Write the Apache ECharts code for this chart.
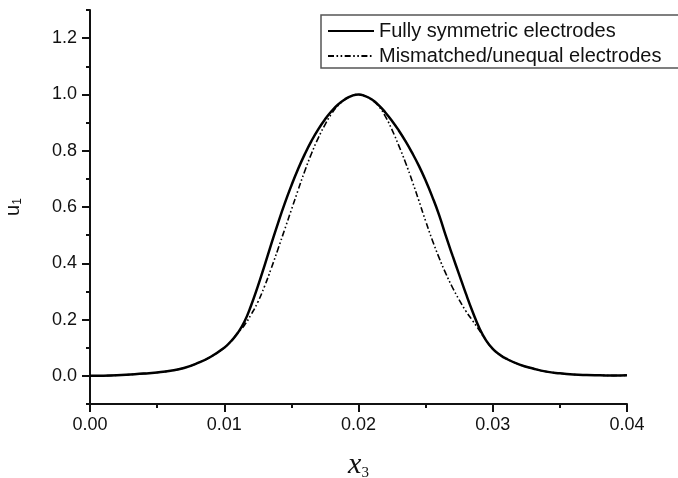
<!DOCTYPE html>
<html>
<head>
<meta charset="utf-8">
<script src="https://cdn.jsdelivr.net/npm/echarts@6/dist/echarts.min.js"></script>
<style>html,body{margin:0;padding:0;background:#fff}#c{width:678px;height:478px}</style>
</head>
<body>
<div id="c"></div>
<script>
// x3 positions (shared by both curves)
var xValues = [0, 0.002, 0.004, 0.005, 0.006, 0.007, 0.008, 0.009, 0.010, 0.0105, 0.011, 0.0115, 0.012, 0.0125, 0.013, 0.0135, 0.014, 0.0145, 0.015, 0.0155, 0.016, 0.0165, 0.017, 0.0175, 0.018, 0.0185, 0.019, 0.0195, 0.020, 0.0205, 0.021, 0.0215, 0.022, 0.0225, 0.023, 0.0235, 0.024, 0.0245, 0.025, 0.0255, 0.026, 0.0265, 0.027, 0.0275, 0.028, 0.0285, 0.029, 0.0295, 0.030, 0.0305, 0.031, 0.032, 0.033, 0.034, 0.035, 0.036, 0.037, 0.038, 0.039, 0.040];
// Fully symmetric electrodes
var symmetricU = [0.000, 0.002, 0.008, 0.012, 0.018, 0.028, 0.045, 0.068, 0.100, 0.123, 0.152, 0.192, 0.250, 0.318, 0.392, 0.468, 0.542, 0.612, 0.676, 0.735, 0.788, 0.835, 0.876, 0.911, 0.941, 0.965, 0.983, 0.995, 1.000, 0.994, 0.982, 0.962, 0.936, 0.906, 0.872, 0.834, 0.792, 0.746, 0.694, 0.636, 0.572, 0.498, 0.428, 0.360, 0.292, 0.228, 0.170, 0.126, 0.096, 0.076, 0.061, 0.040, 0.026, 0.015, 0.009, 0.005, 0.003, 0.002, 0.001, 0.002];
// Mismatched/unequal electrodes
var mismatchedU = [0.000, 0.002, 0.008, 0.012, 0.018, 0.028, 0.045, 0.068, 0.100, 0.123, 0.152, 0.180, 0.218, 0.262, 0.318, 0.382, 0.450, 0.520, 0.590, 0.660, 0.728, 0.790, 0.845, 0.892, 0.932, 0.962, 0.982, 0.995, 1.000, 0.994, 0.980, 0.958, 0.922, 0.874, 0.818, 0.758, 0.692, 0.622, 0.550, 0.482, 0.420, 0.364, 0.314, 0.270, 0.230, 0.196, 0.162, 0.126, 0.096, 0.076, 0.061, 0.040, 0.026, 0.015, 0.009, 0.005, 0.003, 0.002, 0.001, 0.002];
var seriesNames = ['Fully symmetric electrodes', 'Mismatched/unequal electrodes'];
var yMajorTicks = [0.0, 0.2, 0.4, 0.6, 0.8, 1.0, 1.2];
var yMinorTicks = [-0.1, 0.1, 0.3, 0.5, 0.7, 0.9, 1.1, 1.3];

function pairs(xs, ys) { return xs.map(function (x, i) { return [x, ys[i]]; }); }

var chart = echarts.init(document.getElementById('c'));
var font = 'Liberation Sans, Arial, sans-serif';
chart.setOption({
  animation: false,
  backgroundColor: '#fff',
  grid: { left: 90, right: 51, top: 10, bottom: 74, outerBoundsMode: 'none', containLabel: false },
  legend: {
    orient: 'vertical', left: 321, top: 15,
    itemWidth: 46, itemHeight: 14, itemGap: 5,
    padding: [6, 30, 2, 6],
    borderColor: '#555', borderWidth: 1.5,
    itemStyle: { opacity: 0 },
    textStyle: { fontFamily: font, fontSize: 20, color: '#111' },
    data: seriesNames
  },
  xAxis: {
    type: 'value', min: 0, max: 0.04, interval: 0.01, position: 'bottom',
    name: '{x|x}{s|3}', nameLocation: 'middle', nameGap: 46,
    nameTextStyle: {
      rich: {
        x: { fontFamily: 'Liberation Serif, Times New Roman, serif', fontStyle: 'italic', fontSize: 30, color: '#111' },
        s: { fontFamily: 'Liberation Serif, Times New Roman, serif', fontSize: 15, color: '#111', padding: [16, 0, 0, 0] }
      }
    },
    axisLine: { onZero: false, lineStyle: { color: '#111', width: 2 } },
    axisTick: { inside: false, length: 8, lineStyle: { color: '#111', width: 2 } },
    minorTick: { show: true, splitNumber: 2, length: 4, lineStyle: { color: '#111', width: 2 } },
    axisLabel: { fontFamily: font, fontSize: 18, color: '#111', margin: 12, formatter: function (v) { return v.toFixed(2); } },
    splitLine: { show: false }, minorSplitLine: { show: false }
  },
  yAxis: [{
    type: 'value', min: -0.1, max: 1.3, position: 'left',
    name: '{u|u}{s|1}', nameLocation: 'middle', nameGap: 66, nameRotate: 90,
    nameTextStyle: {
      rich: {
        u: { fontFamily: font, fontSize: 20, color: '#111' },
        s: { fontFamily: font, fontSize: 12, color: '#111', padding: [10, 0, 0, 0] }
      }
    },
    axisLine: { onZero: false, lineStyle: { color: '#111', width: 2 } },
    axisTick: { length: 8, lineStyle: { color: '#111', width: 2 }, customValues: yMajorTicks },
    axisLabel: { fontFamily: font, fontSize: 18, color: '#111', margin: 13, customValues: yMajorTicks, formatter: function (v) { return v.toFixed(1); } },
    splitLine: { show: false }
  }, {
    type: 'value', min: -0.1, max: 1.3, position: 'left',
    axisLine: { show: false, onZero: false },
    axisTick: { show: true, length: 4, lineStyle: { color: '#111', width: 2 }, customValues: yMinorTicks },
    axisLabel: { show: false },
    splitLine: { show: false }
  }],
  series: [{
    name: seriesNames[0], type: 'line', data: pairs(xValues, symmetricU),
    symbol: 'none', smooth: 0.5, z: 3,
    lineStyle: { color: '#000', width: 2.5, type: 'solid' },
    itemStyle: { color: '#000' }
  }, {
    name: seriesNames[1], type: 'line', data: pairs(xValues, mismatchedU),
    symbol: 'none', smooth: 0.5, z: 2,
    lineStyle: { color: '#000', width: 1.6, type: [6, 2.5, 1.6, 2.5, 1.6, 2.5] },
    itemStyle: { color: '#000' }
  }]
});
</script>
</body>
</html>
